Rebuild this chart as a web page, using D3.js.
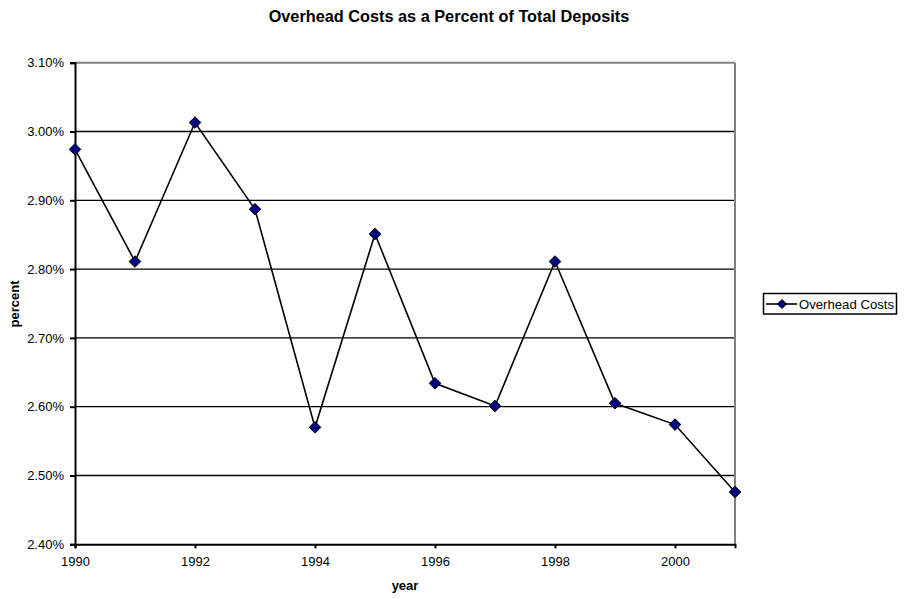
<!DOCTYPE html>
<html>
<head>
<meta charset="utf-8">
<script src="https://cdn.jsdelivr.net/npm/d3@7"></script>
<style>
  html, body { margin: 0; padding: 0; background: #fff; }
  svg { display: block; font-family: "Liberation Sans", Arial, sans-serif; }
</style>
</head>
<body>
<svg id="chart" width="905" height="599"></svg>
<script>
const years = [1990, 1991, 1992, 1993, 1994, 1995, 1996, 1997, 1998, 1999, 2000, 2001];
const overheadCosts = [0.02974, 0.02811, 0.03013, 0.02887, 0.02570, 0.02851, 0.02634, 0.02601, 0.02811, 0.02605, 0.02574, 0.02476];
const yTicks = [0.024, 0.025, 0.026, 0.027, 0.028, 0.029, 0.030, 0.031];
const xTicks = [1990, 1992, 1994, 1996, 1998, 2000];
const seriesName = "Overhead Costs";
const titleText = "Overhead Costs as a Percent of Total Deposits";
const xLabel = "year";
const yLabel = "percent";

const svg = d3.select("#chart");
const L = 75, R = 735, T = 62.7, B = 544.3;

const x = d3.scaleLinear().domain([1990, 2001]).range([L, R]);
const y = d3.scaleLinear().domain([0.024, 0.031]).range([B, T]);
const fmt = d3.format(".2%");

// gridlines
svg.append("g").selectAll("line")
  .data(yTicks.filter(v => v > 0.024 && v < 0.031))
  .join("line")
  .attr("x1", L).attr("x2", R)
  .attr("y1", d => y(d)).attr("y2", d => y(d))
  .attr("stroke", "#000").attr("stroke-width", 1.3);

// top & right border (gray)
svg.append("line").attr("x1", L).attr("x2", R).attr("y1", T).attr("y2", T)
  .attr("stroke", "#808080").attr("stroke-width", 2);
svg.append("line").attr("x1", R).attr("x2", R).attr("y1", T).attr("y2", B)
  .attr("stroke", "#808080").attr("stroke-width", 2);

// y axis
const yAxis = svg.append("g").attr("transform", `translate(${L},0)`)
  .call(d3.axisLeft(y).tickValues(yTicks).tickFormat(fmt).tickSize(5).tickPadding(6));
yAxis.select(".domain").attr("stroke", "#000").attr("stroke-width", 2);
yAxis.selectAll(".tick line").attr("stroke", "#000").attr("stroke-width", 2);
yAxis.selectAll("text").attr("font-size", 13).attr("fill", "#000")
  .attr("font-family", "Liberation Sans, Arial, sans-serif");

// x axis
const xAxis = svg.append("g").attr("transform", `translate(0,${B})`)
  .call(d3.axisBottom(x).tickValues(xTicks).tickFormat(d3.format("d")).tickSize(4).tickPadding(8));
xAxis.select(".domain").attr("stroke", "#000").attr("stroke-width", 2);
xAxis.selectAll(".tick line").attr("stroke", "#000").attr("stroke-width", 2);
xAxis.selectAll("text").attr("font-size", 13).attr("fill", "#000")
  .attr("font-family", "Liberation Sans, Arial, sans-serif");

// line
const data = years.map((yr, i) => ({ yr, v: overheadCosts[i] }));
svg.append("path").datum(data)
  .attr("fill", "none").attr("stroke", "#000").attr("stroke-width", 1.6)
  .attr("d", d3.line().x(d => x(d.yr)).y(d => y(d.v)));

const dpath = (h) => `M0,${-h}L${h},0L0,${h}L${-h},0Z`;

svg.append("g").selectAll("path")
  .data(data).join("path")
  .attr("transform", d => `translate(${x(d.yr)},${y(d.v)})`)
  .attr("d", dpath(5.8))
  .attr("fill", "#000080").attr("stroke", "#000").attr("stroke-width", 1);

// title
svg.append("text").attr("x", 449).attr("y", 21.5).attr("text-anchor", "middle")
  .attr("font-size", 16.3).attr("font-weight", "bold").text(titleText);

// axis labels
svg.append("text").attr("x", 405).attr("y", 590).attr("text-anchor", "middle")
  .attr("font-size", 13).attr("font-weight", "bold").text(xLabel);
svg.append("text").attr("transform", "translate(19,304) rotate(-90)")
  .attr("text-anchor", "middle").attr("font-size", 13).attr("font-weight", "bold").text(yLabel);

// legend
const lg = svg.append("g");
lg.append("rect").attr("x", 763.5).attr("y", 293.5).attr("width", 133).attr("height", 20.5)
  .attr("fill", "#fff").attr("stroke", "#000").attr("stroke-width", 1.5);
lg.append("line").attr("x1", 766).attr("x2", 797).attr("y1", 304).attr("y2", 304)
  .attr("stroke", "#000").attr("stroke-width", 1.6);
lg.append("path").attr("transform", "translate(782,304)").attr("d", dpath(4.5))
  .attr("fill", "#000080").attr("stroke", "#000").attr("stroke-width", 1);
lg.append("text").attr("x", 799).attr("y", 308.5).attr("font-size", 13)
  .attr("textLength", 95).attr("lengthAdjust", "spacingAndGlyphs").text(seriesName);
</script>
</body>
</html>
